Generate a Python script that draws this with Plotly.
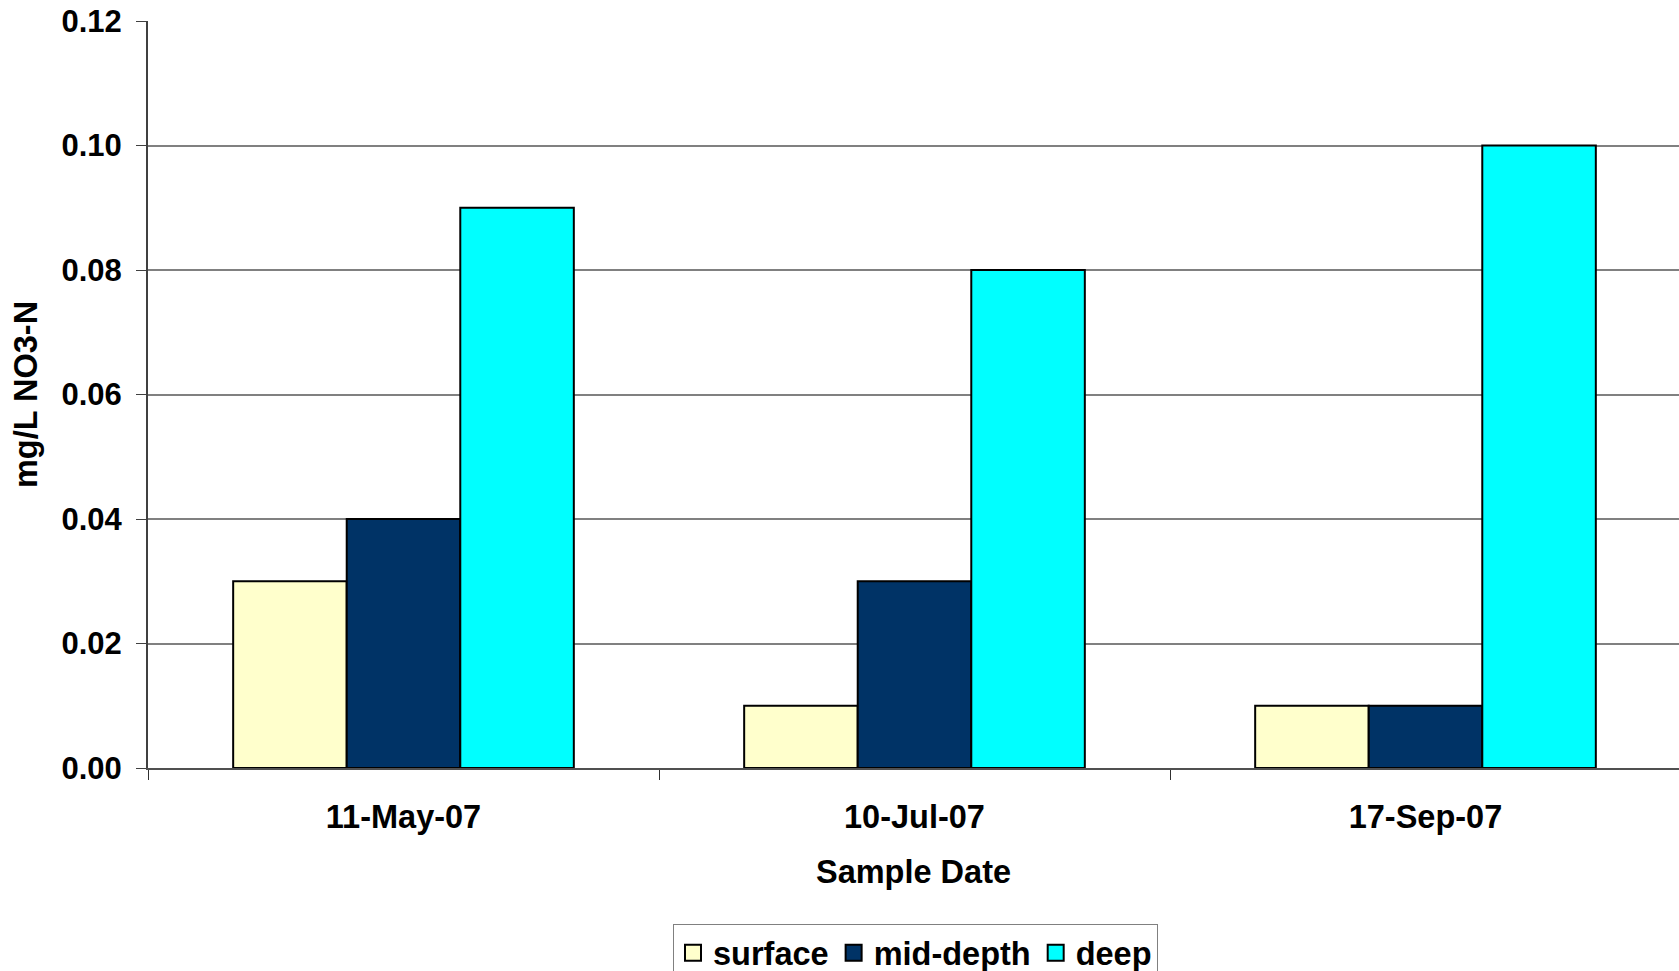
import plotly.graph_objects as go

# Nitrate concentrations by sample date and depth
dates = ["11-May-07", "10-Jul-07", "17-Sep-07"]
surface = [0.03, 0.01, 0.01]
mid_depth = [0.04, 0.03, 0.01]
deep = [0.09, 0.08, 0.10]

series = [
    ("surface", surface, "#FFFFCC"),
    ("mid-depth", mid_depth, "#003366"),
    ("deep", deep, "#00FFFF"),
]

W, H = 1679, 971
FONT = "Liberation Sans, Arial, sans-serif"
FS = 32.5
FS_Y = 31

fig = go.Figure()
for name, vals, color in series:
    fig.add_trace(go.Bar(
        name=name, x=dates, y=vals, legendgroup=name, showlegend=False,
        marker=dict(color=color, line=dict(color="#000000", width=2)),
    ))
    # legend entry with a larger square swatch
    fig.add_trace(go.Scatter(
        name=name, x=[None], y=[None], mode="markers", legendgroup=name,
        marker=dict(symbol="square", size=16, color=color,
                    line=dict(color="#000000", width=2)),
    ))

fig.update_layout(
    width=W, height=H,
    margin=dict(l=148, r=0, t=21, b=203, autoexpand=False),
    barmode="group", bargap=1.5 / 4.5, bargroupgap=0,
    plot_bgcolor="white", paper_bgcolor="white",
    font=dict(family=FONT, size=FS, color="black", weight="bold"),
    showlegend=True,
    legend=dict(
        orientation="h",
        xref="container", yref="container",
        x=673 / W, y=1 - 924 / H, xanchor="left", yanchor="top",
        bordercolor="#808080", borderwidth=1, bgcolor="white",
        font=dict(family=FONT, size=FS, color="black", weight="bold"),
        itemsizing="trace", itemwidth=30, tracegroupgap=0,
    ),
)

fig.update_xaxes(
    type="category",
    range=[-0.5, 2.5 - 2 / 511],
    showline=True, linecolor="#505050", linewidth=2,
    ticks="outside", tickson="boundaries", ticklen=10, tickcolor="#303030", tickwidth=1,
    showgrid=False, zeroline=False,
    ticklabelstandoff=19,
    tickfont=dict(family=FONT, size=FS, weight="bold"),
    title=dict(text="Sample Date", standoff=26,
               font=dict(family=FONT, size=FS, weight="bold")),
    automargin=False,
)

fig.update_yaxes(
    range=[0, 0.12], dtick=0.02, tick0=0, tickformat=".2f",
    showline=True, linecolor="#404040", linewidth=2,
    ticks="outside", ticklen=10, tickcolor="#404040", tickwidth=1,
    showgrid=True, gridcolor="#808080", gridwidth=1.5,
    zeroline=False,
    ticklabelstandoff=8,
    tickfont=dict(family=FONT, size=FS_Y, weight="bold"),
    title=dict(text="mg/L NO3-N", standoff=14,
               font=dict(family=FONT, size=FS, weight="bold")),
    automargin=False,
)

fig.write_html("out.html")
